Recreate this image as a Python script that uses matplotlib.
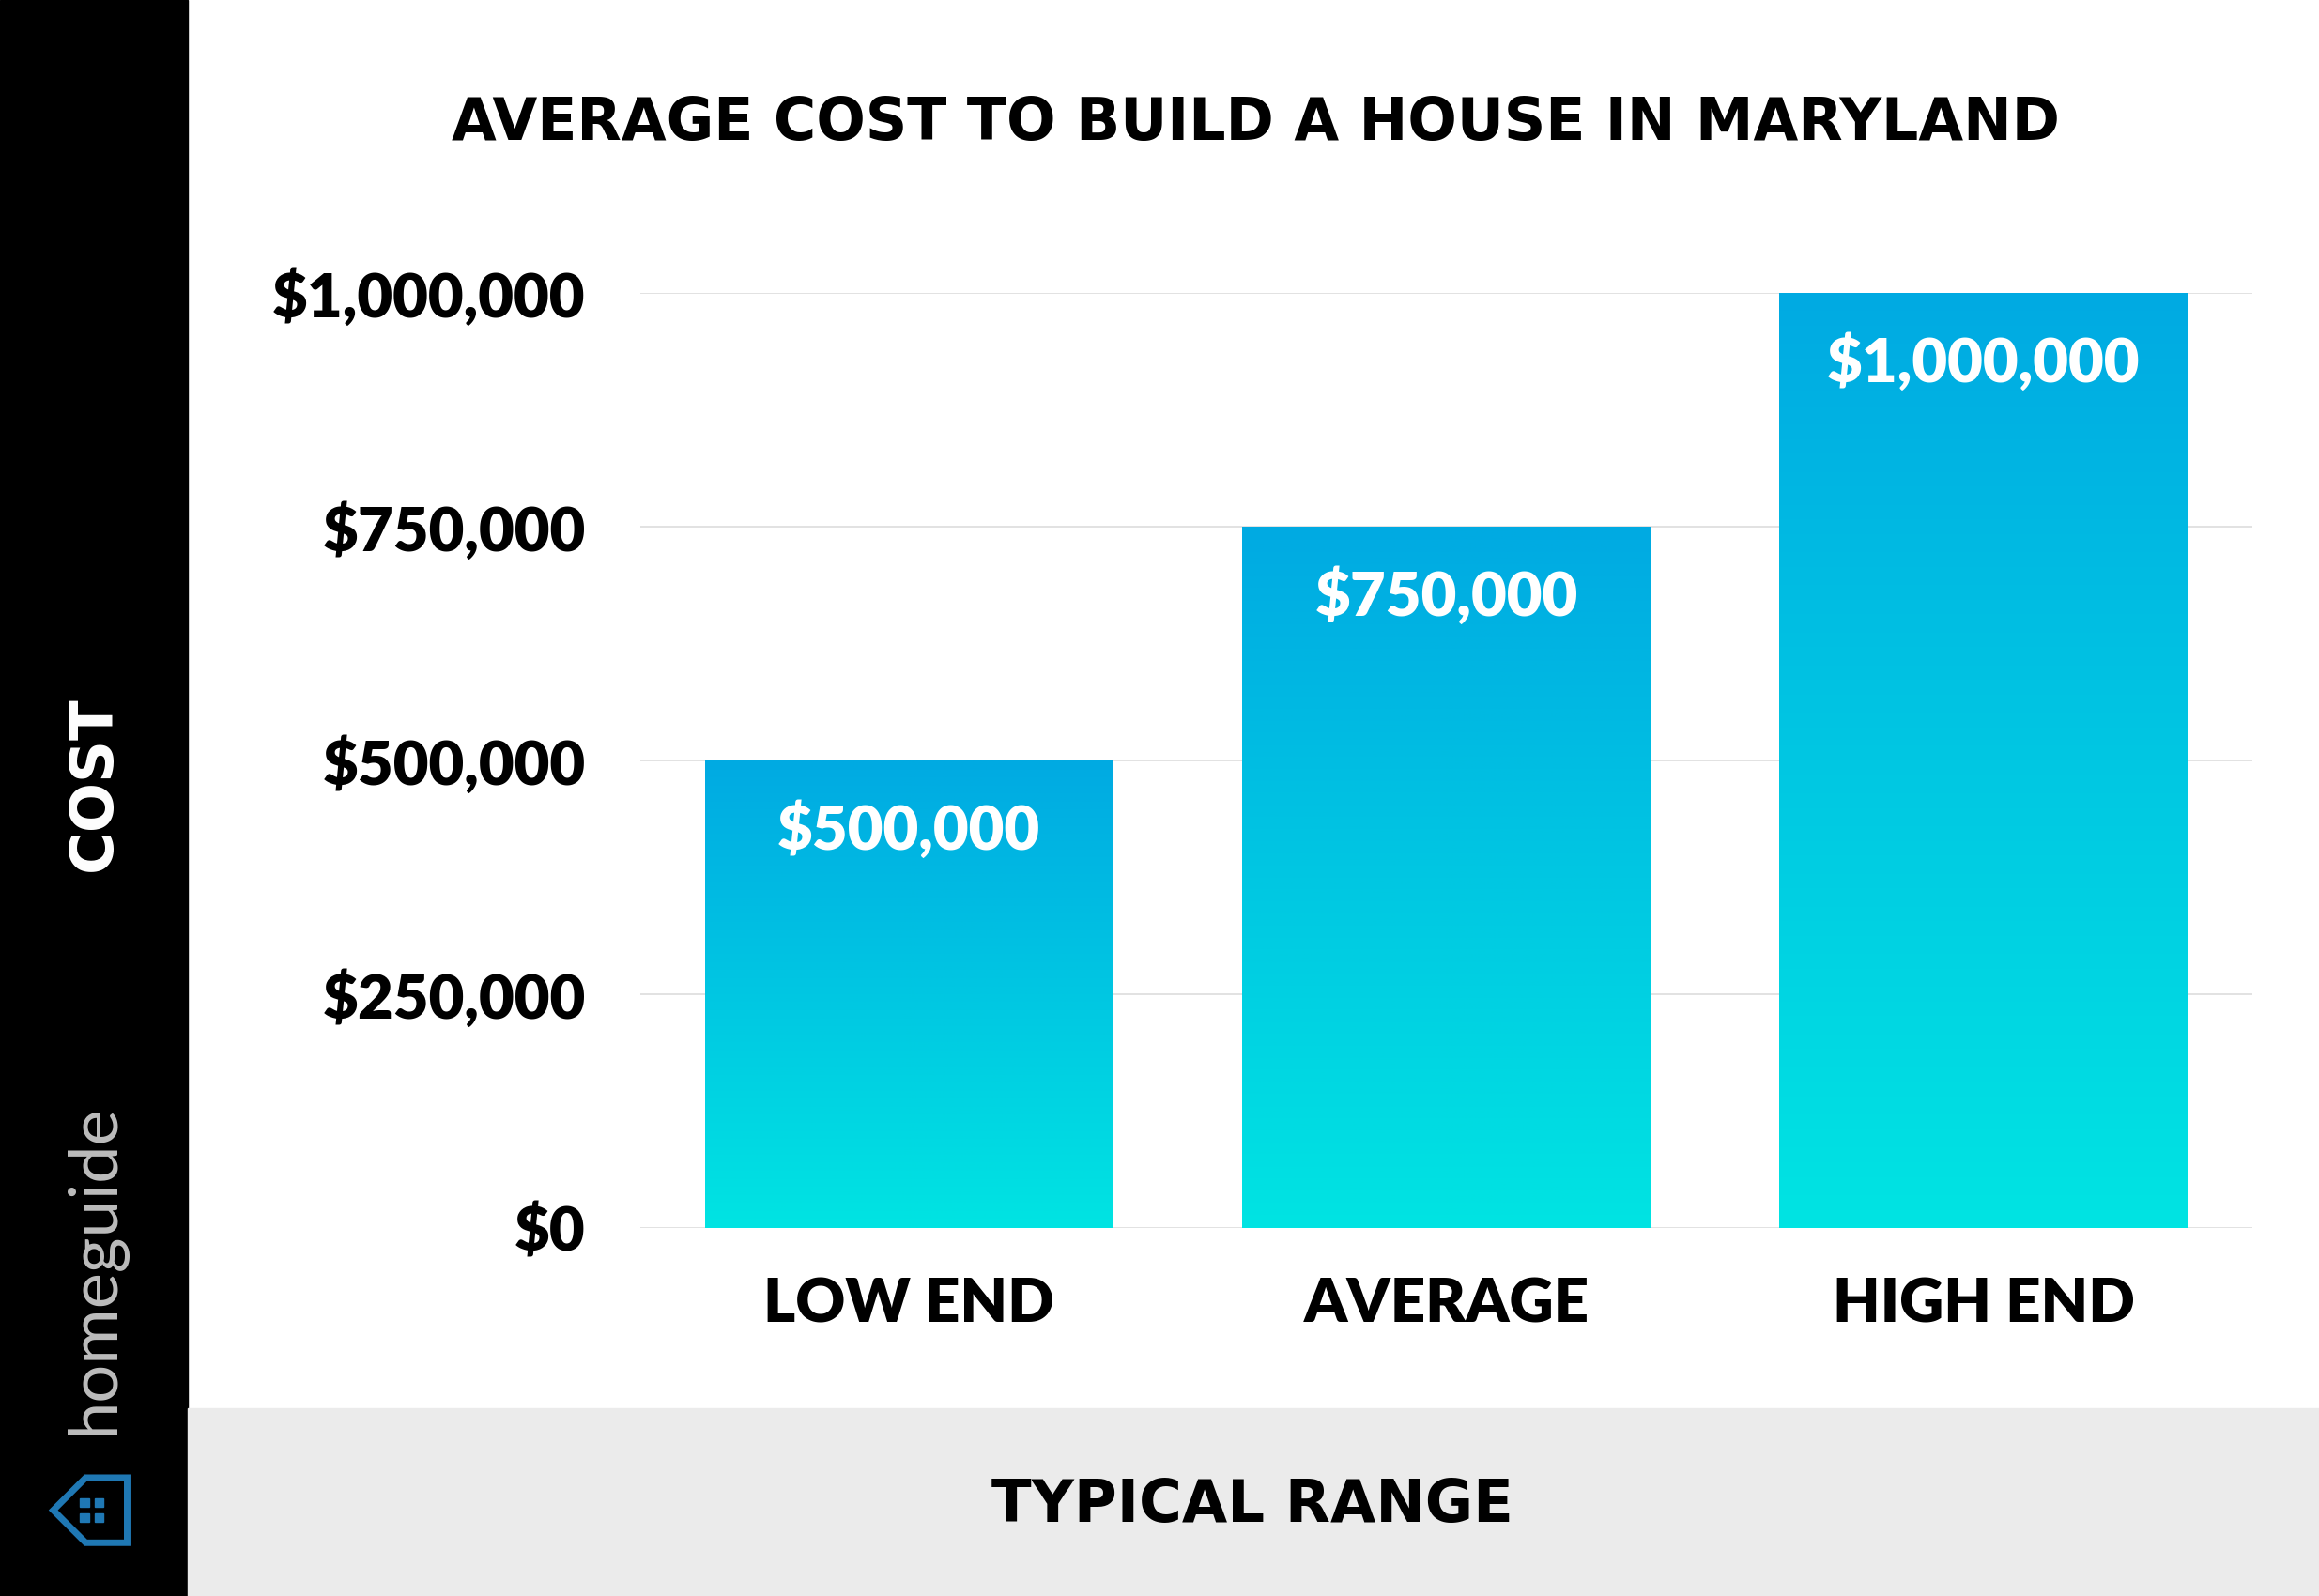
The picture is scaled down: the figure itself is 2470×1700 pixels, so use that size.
import numpy as np
import matplotlib
matplotlib.use("Agg")
import matplotlib.pyplot as plt
from matplotlib.patches import Rectangle, Polygon
from matplotlib.ticker import FuncFormatter

categories = ["LOW END", "AVERAGE", "HIGH END"]
values = [500000, 750000, 1000000]
yticks = [0, 250000, 500000, 750000, 1000000]

W, H = 1568, 1079  # layout measured in reference pixels
FONT = "Lato"
TITLE_FONT = "DejaVu Sans"

fig = plt.figure(figsize=(24.7, 17), dpi=100)
fig.patch.set_facecolor("white")

# side + bottom bands
fig.add_artist(Rectangle((0, 0), 127 / W, 1, transform=fig.transFigure, color="black", zorder=0))
fig.add_artist(Rectangle((127 / W, 0), 1 - 127 / W, 1 - 952 / H, transform=fig.transFigure,
                         color="#ebebeb", zorder=0))

ax = fig.add_axes([433 / W, 1 - 830 / H, (1523 - 433) / W, (830 - 198) / H])
for s in ax.spines.values():
    s.set_visible(False)
ax.set_yticks(yticks)
ax.yaxis.set_major_formatter(FuncFormatter(lambda v, p: f"${v:,.0f}"))
ax.grid(axis="y", color="#dddddd", linewidth=1.2)
ax.set_axisbelow(True)
ax.tick_params(length=0, pad=42)
ax.set_xticks(range(len(categories)))
ax.set_xticklabels(categories)
for lbl in ax.get_yticklabels() + ax.get_xticklabels():
    lbl.set_fontfamily(FONT)
    lbl.set_fontweight("heavy")
    lbl.set_fontsize(47)
ax.tick_params(axis="x", pad=38)

# gradient bars
grad = np.linspace(0, 1, 256).reshape(-1, 1)
top = np.array([0, 170, 226]) / 255
bot = np.array([0, 228, 226]) / 255
img = bot + (top - bot) * grad[:, :, None]  # row 0 = bottom with origin lower
bw = 0.76
for i, v in enumerate(values):
    rect = Rectangle((i - bw / 2, 0), bw, v, facecolor="none", edgecolor="none")
    ax.add_patch(rect)
    im = ax.imshow(img, extent=(i - bw / 2, i + bw / 2, 0, v), origin="lower",
                   aspect="auto", zorder=2)
    im.set_clip_path(rect)
    ax.text(i, v - 75000, f"${v:,.0f}", ha="center", va="center", color="white",
            fontsize=47, fontweight="heavy", fontfamily=FONT, zorder=3)
ax.set_xlim(-0.5, 2.5)
ax.set_ylim(0, 1000000)

fig.text(849 / W, 1 - 84 / H, "AVERAGE COST TO BUILD A HOUSE IN MARYLAND", ha="center",
         va="center", fontsize=44.5, fontweight="bold", fontfamily=TITLE_FONT)
fig.text(847 / W, 1 - 1018 / H, "TYPICAL RANGE", ha="center", va="center",
         fontsize=45, fontweight="bold", fontfamily=TITLE_FONT)
fig.text(64 / W, 1 - 530 / H, "COST", rotation=90, ha="center", va="center",
         fontsize=45, fontweight="bold", fontfamily=TITLE_FONT, color="white")

# logo
fig.text(64 / W, 1 - 858 / H, "homeguide", rotation=90, ha="center", va="center",
         fontsize=52, fontfamily=FONT, color="#bdbdbd")
cx, cy = 62 / W, 1 - 1021 / H
sx, sy = 1 / W, 1 / H
house = [(cx + 24 * sx, cy + 22 * sy), (cx - 4 * sx, cy + 22 * sy), (cx - 26 * sx, cy),
         (cx - 4 * sx, cy - 22 * sy), (cx + 24 * sx, cy - 22 * sy)]
fig.add_artist(Polygon(house, closed=True, transform=fig.transFigure, facecolor="none",
                       edgecolor="#1f78b4", linewidth=5))
for dx in (-5, 5):
    for dy in (-5, 5):
        fig.add_artist(Rectangle((cx + (dx - 3) * sx, cy + (dy - 3) * sy), 6 * sx, 6 * sy,
                                 transform=fig.transFigure, color="#1f78b4"))

fig.savefig("out.png", dpi=100, facecolor=fig.get_facecolor())
